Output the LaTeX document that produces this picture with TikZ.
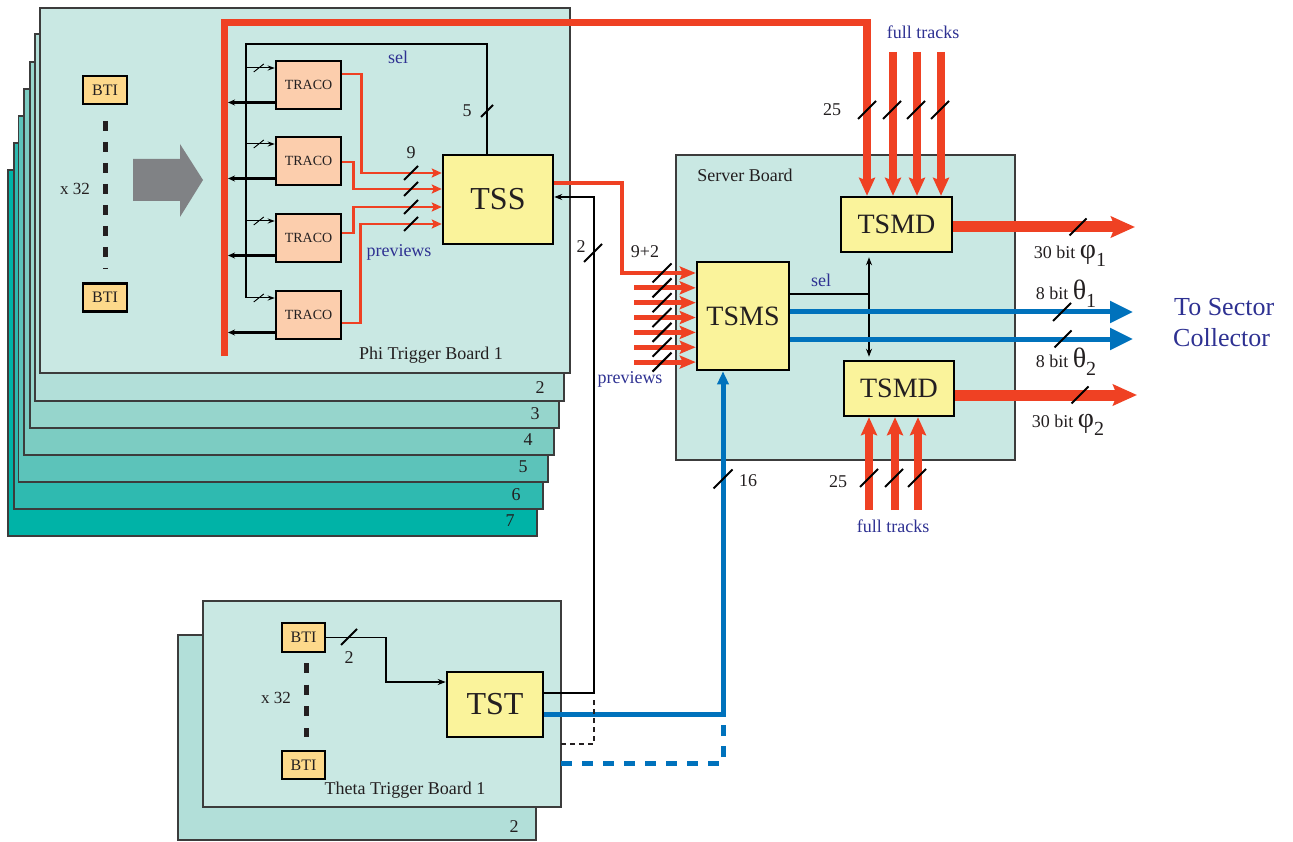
\documentclass[tikz,border=0pt]{standalone}
\usepackage{fontspec}
\setmainfont{Liberation Serif}
\usetikzlibrary{arrows.meta,calc}
\definecolor{bdA}{RGB}{201,232,227}
\definecolor{bdB}{RGB}{178,223,217}
\definecolor{bdC}{RGB}{150,213,204}
\definecolor{bdD}{RGB}{124,204,194}
\definecolor{bdE}{RGB}{92,195,186}
\definecolor{bdF}{RGB}{47,186,176}
\definecolor{bdG}{RGB}{0,179,167}
\definecolor{tred}{RGB}{239,65,35}
\definecolor{tblue}{RGB}{0,114,188}
\definecolor{tlab}{RGB}{46,49,146}
\definecolor{yel}{RGB}{250,243,155}
\definecolor{peach}{RGB}{252,206,173}
\definecolor{btic}{RGB}{253,217,139}
\definecolor{greyarr}{RGB}{128,130,133}
\definecolor{edge}{RGB}{60,60,60}
\definecolor{ink}{RGB}{35,31,32}
\newcommand\myfs[1]{\fontsize{#1}{#1}\selectfont}
\tikzset{
 pics/busmark/.style={code={\draw[line width=2pt,black] (-#1,#1) -- (#1,-#1);}},
 pics/tinymark/.style={code={\draw[line width=0.9pt,black] (-5,4) -- (5,-4);}}
}
\begin{document}
\begin{tikzpicture}[x=1pt,y=-1pt,
  board/.style={fill=#1,draw=edge,line width=1.2pt},
  chip/.style={draw=black,line width=2.5pt,inner sep=0pt,fill=#1,text=ink},
  lab/.style={inner sep=0pt,font=\myfs{18},text=ink},
  bluelab/.style={inner sep=0pt,font=\myfs{18},text=tlab},
  thinline/.style={line width=1.2pt,black},
  smallarr/.style={line width=1pt,black,-{Stealth[length=7pt,width=5pt]}},
  outarr/.style={line width=2.2pt,black,-{Stealth[length=7pt,width=6pt]}},
  blkarr/.style={line width=1.5pt,black,-{Stealth[length=8pt,width=6pt]}},
  redthin/.style={line width=2.5pt,tred,-{Stealth[length=10pt,width=9pt,inset=2pt]}},
  redmid/.style={line width=4.5pt,tred,-{Stealth[length=16pt,width=13pt,inset=3pt]}},
  redprev/.style={line width=5pt,tred,-{Stealth[length=16pt,width=13pt,inset=3pt]}},
  redbus/.style={line width=7.5pt,tred,-{Stealth[length=18pt,width=16pt,inset=3pt]}},
  redout/.style={line width=11pt,tred,-{Stealth[length=24pt,width=21pt,inset=4pt]}},
  blueout/.style={line width=5pt,tblue,-{Triangle[length=23pt,width=21pt]}},
  bluemid/.style={line width=5pt,tblue,-{Triangle[length=13pt,width=11pt]}}
]
\useasboundingbox (0,0) rectangle (1293,842);

% ---------- Phi trigger boards ----------
\foreach \l/\t/\r/\b/\c in {8/170/537/536/bdG, 14/143/543/509/bdF, 18.5/116/548/482/bdE, 24/89/554/455/bdD, 30/62/559/428/bdC, 35/34/564/401/bdB, 40/8/570/373/bdA}
  \draw[board=\c] (\l,\t) rectangle (\r,\b);
\node[lab] (nb2) at (540,388) {2};
\node[lab] (nb3) at (535,414) {3};
\node[lab] (nb4) at (528,440) {4};
\node[lab] (nb5) at (523,467) {5};
\node[lab] (nb6) at (516,495) {6};
\node[lab] (nb7) at (510,521) {7};
\node[lab] (phiname) at (431,355) {Phi Trigger Board 1};

% BTIs on phi board
\node[chip=btic,minimum width=44pt,minimum height=28pt,font=\myfs{16}] (bti1) at (105,90) {BTI};
\node[chip=btic,minimum width=44pt,minimum height=28pt,font=\myfs{16}] (bti2) at (105,297.5) {BTI};
\draw[line width=5pt,ink,dash pattern=on 10pt off 11pt] (105,121) -- (105,269);
\node[lab,font=\myfs{17}] (x32a) at (75,189) {x 32};
\fill[greyarr] (133,159) -- (180,159) -- (180,144) -- (203,180) -- (180,217) -- (180,201) -- (133,201) -- cycle;

% TSS
\node[chip=yel,minimum width=110pt,minimum height=89pt,font=\myfs{32}] (tss) at (498,199.5) {TSS};

% TRACOs
\foreach \i/\y in {1/85,2/161,3/238,4/315}
  \node[chip=peach,minimum width=65pt,minimum height=48pt,font=\myfs{14}] (traco\i) at (308.5,\y) {TRACO};

% sel loop
\coordinate (selleft) at (246,44);
\coordinate (selright) at (487,44);
\coordinate (busfoot) at (224.5,356);
\foreach \i in {1,2,3,4}{
  \coordinate (ti\i) at ($(traco\i.west)+(0,-17)$);
  \coordinate (to\i) at ($(traco\i.west)+(0,17.5)$);
}
\draw[thinline] (selleft |- ti4) -- (selleft) -- (selright) -- (selright |- tss.north);
\path (487,111) pic{busmark=6};
\node[lab] (l5) at (467,111) {5};
\node[bluelab] (lsel1) at (398,57) {sel};
\foreach \i in {1,2,3,4}{
  \draw[smallarr] (selleft |- ti\i) -- (ti\i);
  \path ($(ti\i)+(-16,0)$) pic{tinymark};
  \draw[outarr,shorten >=3.5pt] (to\i) -- (busfoot |- to\i);
}

% TRACO -> TSS previews
\coordinate (sA) at (443,173);
\coordinate (sB) at (443,189);
\coordinate (sC) at (443,207);
\coordinate (sD) at (443,224);
\draw[redthin] ($(traco1.east)+(0,-11)$) -- ++(19,0) |- (tss.west |- sA);
\draw[redthin] ($(traco2.east)+(0,1)$) -- ++(11,0) |- (tss.west |- sB);
\draw[redthin] ($(traco3.east)+(0,-5)$) -- ++(11,0) |- (tss.west |- sC);
\draw[redthin] ($(traco4.east)+(0,8)$) -- ++(18,0) |- (tss.west |- sD);
\foreach \yy in {173,189,207,224} \path (411,\yy) pic{busmark=7};
\node[lab] (l9) at (411,153) {9};
\node[bluelab] (lprev1) at (399,252) {previews};

% ---------- Server board ----------
\draw[board=bdA] (676,155) rectangle (1015,460);
\node[lab] (srvname) at (745,175) {Server Board};
\node[chip=yel,minimum width=92pt,minimum height=108pt,font=\myfs{28}] (tsms) at (743,316) {TSMS};
\node[chip=yel,minimum width=111pt,minimum height=55pt,font=\myfs{28}] (tsmd1) at (896.5,224.5) {TSMD};
\node[chip=yel,minimum width=110pt,minimum height=55pt,font=\myfs{28}] (tsmd2) at (899,388.5) {TSMD};

% red bus full track
\coordinate (buscorner) at (867,22.5);
\draw[redbus] (busfoot) |- (buscorner) -- (buscorner |- tsmd1.north);
% full tracks top
\coordinate (fB) at (893,52);
\coordinate (fC) at (917,52);
\coordinate (fD) at (941,52);
\foreach \f in {fB,fC,fD} \draw[redbus] (\f) -- (\f |- tsmd1.north);
\foreach \xx in {867,892,916,940} \path (\xx,110) pic{busmark=9};
\node[lab] (l25a) at (832,110) {25};
\node[bluelab] (lft1) at (923,32) {full tracks};
% full tracks bottom
\coordinate (gA) at (869,510);
\coordinate (gB) at (895,510);
\coordinate (gC) at (918,510);
\foreach \g in {gA,gB,gC} \draw[redbus] (\g) -- (\g |- tsmd2.south);
\foreach \xx in {869,894,917} \path (\xx,478) pic{busmark=9};
\node[lab] (l25b) at (838,482) {25};
\node[bluelab] (lft2) at (893,526) {full tracks};

% TSS -> TSMS and previews
\coordinate (tssout) at ($(tss.east)+(0,-16.5)$);
\coordinate (pv0) at (622,273);
\draw[redmid] (tssout) -| (pv0) -- (tsms.west |- pv0);
\foreach \k in {1,...,6}{
  \pgfmathsetmacro\py{273+14.85*\k}
  \coordinate (pv\k) at (634,\py);
  \draw[redprev] (pv\k) -- (tsms.west |- pv\k);
}
\foreach \k in {0,...,6}{
  \pgfmathsetmacro\py{273+14.85*\k}
  \path (662,\py) pic{busmark=9.5};
}
\node[lab] (l92) at (645,252) {9+2};
\node[bluelab] (lprev2) at (630,379) {previews};

% sel inside server
\coordinate (selS) at ($(tsms.east)+(0,-22)$);
\coordinate (colS) at (869,0);
\draw[line width=1.5pt,black] (selS) -- (colS |- selS);
\draw[line width=1.5pt,black,{Stealth[length=8pt,width=6pt]}-{Stealth[length=8pt,width=6pt]},shorten <=4pt,shorten >=3pt] (colS |- tsmd1.south) -- (colS |- tsmd2.north);
\node[bluelab] (lsel2) at (821,280) {sel};

% blue outputs theta
\coordinate (th1) at ($(tsms.east)+(0,-4)$);
\coordinate (th2) at ($(tsms.east)+(0,23)$);
\coordinate (th1e) at (1133,312);
\coordinate (th2e) at (1133,339);
\draw[blueout] (th1) -- (th1e);
\draw[blueout] (th2) -- (th2e);
\path (1062,312) pic{busmark=9};
\path (1063,339) pic{busmark=8.5};
\node[lab,anchor=base] (lth1) at (1066,300) {8 bit {\myfs{28}θ}\raisebox{-8pt}{\myfs{20}1}};
\node[lab,anchor=base] (lth2) at (1066,367) {8 bit {\myfs{28}θ}\raisebox{-8pt}{\myfs{20}2}};

% red outputs phi
\coordinate (ph1) at ($(tsmd1.east)+(0,2.5)$);
\coordinate (ph2) at ($(tsmd2.east)+(0,6.5)$);
\coordinate (ph1e) at (1135,227);
\coordinate (ph2e) at (1137,395);
\draw[redout] (ph1) -- (ph1e);
\draw[redout] (ph2) -- (ph2e);
\path (1078,227) pic{busmark=8.5};
\path (1080,395) pic{busmark=8.5};
\node[lab,anchor=base] (lph1) at (1070,259) {30 bit {\myfs{28}φ}\raisebox{-8pt}{\myfs{20}1}};
\node[lab,anchor=base] (lph2) at (1068,427) {30 bit {\myfs{28}φ}\raisebox{-8pt}{\myfs{20}2}};

\node[inner sep=0pt,anchor=base west,text=tlab,font=\myfs{26}] (tsc1) at (1174,315.5) {To Sector};
\node[inner sep=0pt,anchor=base west,text=tlab,font=\myfs{26}] (tsc2) at (1173,346.5) {Collector};

% ---------- Theta trigger boards ----------
\draw[board=bdB] (178,635) rectangle (536,840);
\node[lab] (tb2) at (514,827) {2};
\draw[board=bdA] (203,601) rectangle (561,807);
\node[lab] (thetaname) at (405,790) {Theta Trigger Board 1};
\node[chip=btic,minimum width=43pt,minimum height=29pt,font=\myfs{16}] (bti3) at (303.5,637.5) {BTI};
\node[chip=btic,minimum width=43pt,minimum height=28pt,font=\myfs{16}] (bti4) at (303.5,765) {BTI};
\draw[line width=5pt,ink,dash pattern=on 10pt off 11.7pt] (306,663) -- (306,737);
\node[lab,font=\myfs{17}] (x32b) at (276,698) {x 32};
\node[chip=yel,minimum width=96pt,minimum height=65pt,font=\myfs{32}] (tst) at (495,704.5) {TST};
\coordinate (tstin) at ($(tst.west)+(0,-22.5)$);
\draw[blkarr] (bti3.east) -| (386,682) -- (tstin);
\path (349,637) pic{busmark=8};
\node[lab] (l2b) at (349,658) {2};

% TST -> TSS (black) and TST -> TSMS (blue)
\coordinate (tstout) at ($(tst.east)+(0,-11.5)$);
\coordinate (tssin) at ($(tss.east)+(0,-2.5)$);
\coordinate (colK) at (594,0);
\draw[blkarr] (tstout) -| (colK |- tssin) -- (tssin);
\path (593,253) pic{busmark=9};
\node[lab] (l2a) at (581,247) {2};
\coordinate (tstblue) at ($(tst.east)+(0,9.5)$);
\coordinate (colB) at (723,0);
\draw[bluemid] (tstblue) -| (colB |- tsms.south);
\path (723,479) pic{busmark=9.5};
\node[lab] (l16) at (748,481) {16};
% dashed (other theta board)
\draw[line width=2pt,ink,dash pattern=on 5pt off 4pt] (561,744) -| (594,697);
\draw[line width=5pt,tblue,dash pattern=on 11pt off 10pt] (561,763) -| (723,720);
\end{tikzpicture}
\end{document}
